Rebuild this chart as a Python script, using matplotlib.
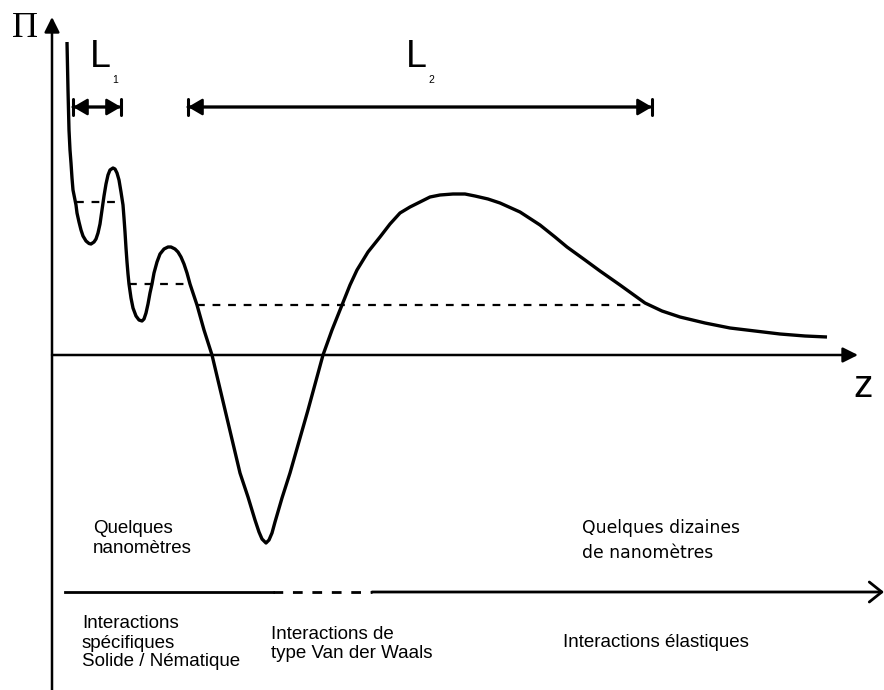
import matplotlib.pyplot as plt

# Disjoining pressure profile Pi(z) as (z, Pi) pairs, origin at the axes crossing
profile = [(15, 313), (16, 265), (17, 225), (18, 205), (19, 192), (20, 177), (21, 165),
           (22, 160), (24, 150), (25, 142), (27, 133), (29, 125), (31, 119), (34, 114),
           (37, 111.5), (39, 111), (42, 113), (44, 116), (46, 122), (48, 131), (50, 145),
           (52, 159), (54, 171), (56, 180), (58, 185), (61, 187), (63, 186), (65, 182),
           (67, 175), (69, 163), (71, 150), (72, 137), (73, 123), (74, 107), (75, 93),
           (76, 81), (77, 71), (79, 57), (81, 47), (84, 39), (87, 35), (90, 34), (92, 36),
           (94, 42), (96, 51), (98, 62), (100, 71), (102, 82), (105, 93), (108, 101),
           (112, 106), (116, 108), (119, 108), (123, 106), (126, 103), (129, 98),
           (132, 91), (135, 82), (138, 71), (145, 50), (152, 25), (160, 0), (174, -59),
           (188, -118), (196, -142), (203, -165), (207, -177), (210, -184), (214, -188),
           (217, -185), (220, -178), (223, -167), (230, -143), (238, -118), (256, -55),
           (271, 0), (280, 25), (290, 50), (298, 70), (305, 85), (316, 103), (328, 118),
           (338, 131), (348, 142), (358, 148), (368, 153), (378, 158), (388, 160),
           (401, 161), (413, 161), (423, 159), (436, 156), (448, 152), (468, 143),
           (488, 130), (503, 118), (515, 108), (533, 95), (548, 84), (568, 70), (593, 52),
           (610, 44), (628, 38), (653, 32), (678, 27), (703, 24), (728, 21), (753, 19),
           (775, 18)]
z_curve = [p[0] for p in profile]
pi_curve = [p[1] for p in profile]

# dashed plateaus: level, start, end
plateau_pi = [153, 71, 50]
plateau_start = [24, 77, 145]
plateau_end = [71, 138, 593]

# thickness ranges L1, L2
span_names = ['L', 'L']
span_subs = ['1', '2']
span_start = [21, 136]
span_end = [69, 600]
span_level = 248

# lower distance scale
scale_level = -237
scale_start, scale_dash_start, scale_dash_end, scale_end = 13, 221, 320, 832

range_texts = [['Quelques', 'nanomètres'], ['Quelques dizaines', 'de nanomètres']]
range_x = [41, 530]
interaction_texts = [['Interactions', 'spécifiques', 'Solide / Nématique'],
                     ['Interactions de', 'type Van der Waals'],
                     ['Interactions élastiques']]
interaction_x = [30, 219, 511]
interaction_top = [-273.5, -284, -292]

fig = plt.figure(figsize=(8.84, 6.90), dpi=100)
ax = fig.add_axes([0, 0, 1, 1])
ax.set_xlim(-52, 832)
ax.set_ylim(-335, 355)
ax.axis('off')

sans = 'Liberation Sans'
head = '-|>,head_length=0.7,head_width=0.35'

# axes with arrows
ax.annotate('', xy=(0, 338), xytext=(0, -336),
            arrowprops=dict(arrowstyle=head, lw=1.8, color='black',
                            mutation_scale=13, shrinkA=0, shrinkB=0))
ax.annotate('', xy=(806, 0), xytext=(0, 0),
            arrowprops=dict(arrowstyle=head, lw=1.8, color='black',
                            mutation_scale=13, shrinkA=0, shrinkB=0))
ax.text(-40, 318, 'Π', family='Liberation Serif', fontsize=26, va='baseline')
ax.text(801, -42, 'z', family=sans, fontsize=28, va='baseline')

# curve
ax.plot(z_curve, pi_curve, color='black', lw=2.4, solid_joinstyle='round',
        solid_capstyle='butt')

# dashed plateaus
for lev, a, b in zip(plateau_pi, plateau_start, plateau_end):
    ax.plot([a, b], [lev, lev], color='black', lw=1.6, dashes=(3.5, 3.5))

# L1 / L2 arrows
for a, b in zip(span_start, span_end):
    ax.annotate('', xy=(b, span_level), xytext=(a, span_level),
                arrowprops=dict(arrowstyle='<|-|>,head_length=0.6,head_width=0.35', lw=1.8,
                                color='black', mutation_scale=14.5, shrinkA=0, shrinkB=0))
    ax.annotate('', xy=(b, span_level), xytext=(a, span_level),
                arrowprops=dict(arrowstyle='|-|,widthA=0.42,widthB=0.42', lw=2.2,
                                color='black', mutation_scale=14.5, shrinkA=0, shrinkB=0))
label_x = [38, 354]
for name, sub, x in zip(span_names, span_subs, label_x):
    ax.text(x, 288, name, family=sans, fontsize=27, va='baseline')
    ax.text(x + 22, 272, sub, family=sans, fontsize=7.5, va='baseline')

# lower distance scale
ax.plot([scale_start, scale_dash_start], [scale_level] * 2, color='black', lw=2)
ax.plot([scale_dash_start, scale_dash_end], [scale_level] * 2, color='black', lw=2,
        dashes=(3.5, 3.5))
ax.annotate('', xy=(scale_end, scale_level), xytext=(scale_dash_end, scale_level),
            arrowprops=dict(arrowstyle='->,head_length=0.5,head_width=0.4', lw=2,
                            color='black', mutation_scale=18, shrinkA=0, shrinkB=0))

# range annotations
fams = [sans, 'DejaVu Sans']
sizes = [13.5, 12.4]
gaps = [20, 25]
for lines, x, fam, fs, g in zip(range_texts, range_x, fams, sizes, gaps):
    for i, line in enumerate(lines):
        ax.text(x, -178 - i * g, line, family=fam, fontsize=fs, va='baseline')

for lines, x, top in zip(interaction_texts, interaction_x, interaction_top):
    for i, line in enumerate(lines):
        ax.text(x, top - i * 19, line, family=sans, fontsize=13.5, va='baseline')

fig.savefig('out.png', dpi=100)
